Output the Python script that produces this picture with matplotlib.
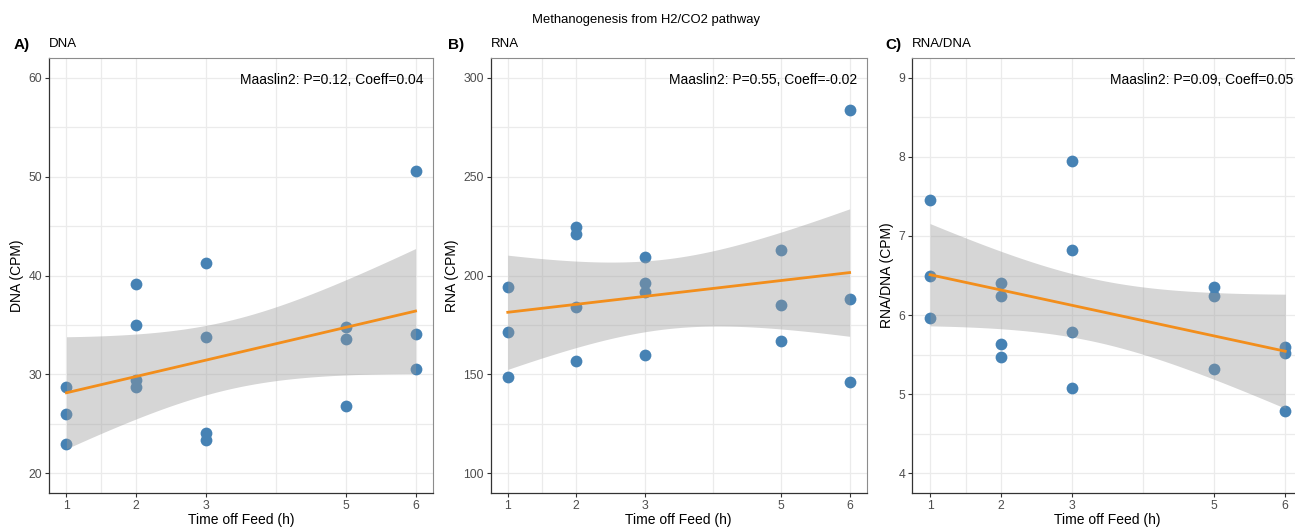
import numpy as np
import matplotlib
matplotlib.use("Agg")
import matplotlib.pyplot as plt

plt.rcParams['font.family'] = ['Liberation Sans', 'DejaVu Sans']

# time off feed (h)
hours = [1, 1, 1, 2, 2, 2, 2, 3, 3, 3, 3, 5, 5, 5, 6, 6, 6]

dna = [28.7, 26.0, 22.97, 39.1, 35.0, 29.45, 28.7, 41.3, 33.8, 24.1, 23.4,
       34.8, 33.55, 26.76, 50.6, 34.07, 30.5]
rna = [194.0, 171.3, 148.9, 224.6, 220.9, 184.0, 157.0, 209.5, 196.1, 191.7, 159.7,
       212.9, 185.1, 167.1, 283.5, 188.0, 146.1]
ratio = [7.46, 6.49, 5.965, 6.40, 6.24, 5.64, 5.47, 7.95, 6.82, 5.79, 5.075,
         6.35, 6.24, 5.32, 5.60, 5.52, 4.79]

panel_tags = ["A)", "B)", "C)"]
panel_titles = ["DNA", "RNA", "RNA/DNA"]
ylabels = ["DNA (CPM)", "RNA (CPM)", "RNA/DNA (CPM)"]
stats = ["Maaslin2: P=0.12, Coeff=0.04",
         "Maaslin2: P=0.55, Coeff=-0.02",
         "Maaslin2: P=0.09, Coeff=0.05"]
yticks = [[20, 30, 40, 50, 60], [100, 150, 200, 250, 300], [4, 5, 6, 7, 8, 9]]
ylims = [(18, 62), (90, 310), (3.75, 9.25)]
xticks = [1, 2, 3, 5, 6]

W, H = 1295, 530
# axes boxes in pixels: left, right, top, bottom
boxes = [(49, 433, 58, 493), (490.7, 866.7, 58, 493), (912.3, 1303, 58, 493)]
tag_x = [14, 448, 885]

T_975 = 2.131  # t quantile, df = 15

fig = plt.figure(figsize=(W / 100, H / 100), dpi=100)

for i, yvals in enumerate([dna, rna, ratio]):
    l, r, t, b = boxes[i]
    ax = fig.add_axes([l / W, (H - b) / H, (r - l) / W, (b - t) / H])
    x = np.array(hours, dtype=float)
    y = np.array(yvals, dtype=float)

    ax.scatter(x, y, s=72, color='#4682B4', zorder=3, linewidths=0)

    # linear fit with 95% confidence band
    slope, icpt = np.polyfit(x, y, 1)
    xs = np.linspace(x.min(), x.max(), 100)
    fit = icpt + slope * xs
    n = len(x)
    resid = y - (icpt + slope * x)
    s = np.sqrt(np.sum(resid ** 2) / (n - 2))
    sxx = np.sum((x - x.mean()) ** 2)
    se = s * np.sqrt(1 / n + (xs - x.mean()) ** 2 / sxx)
    ax.fill_between(xs, fit - T_975 * se, fit + T_975 * se, color='#999999',
                    alpha=0.4, linewidth=0, zorder=4)
    ax.plot(xs, fit, color='#F28E1C', lw=2, zorder=5)

    ax.set_xlim(0.75, 6.25)
    ax.set_ylim(*ylims[i])
    ax.set_xticks(xticks)
    ax.set_xticks([1.5, 4], minor=True)
    yt = yticks[i]
    ax.set_yticks(yt)
    ax.set_yticks([(a + c) / 2 for a, c in zip(yt[:-1], yt[1:])], minor=True)
    ax.grid(True, which='both', color='#EBEBEB', lw=0.9, zorder=0)
    ax.set_axisbelow(True)
    ax.tick_params(which='major', length=3, width=0.8, color='#333333',
                   labelsize=8.8, labelcolor='#4D4D4D', pad=2)
    ax.tick_params(which='minor', length=0)
    for side in ['top', 'right']:
        ax.spines[side].set_color('#8C8C8C')
        ax.spines[side].set_linewidth(0.8)
    for side in ['left', 'bottom']:
        ax.spines[side].set_color('#333333')
        ax.spines[side].set_linewidth(0.9)

    ax.set_xlabel("Time off Feed (h)", fontsize=10, labelpad=1)
    ax.set_ylabel(ylabels[i], fontsize=10, labelpad=3)

    ax.text(0.975, 0.965, stats[i], transform=ax.transAxes, ha='right', va='top',
            fontsize=10)
    fig.text(l / W, (H - 44) / H, panel_titles[i], ha='left', va='center', fontsize=9.5)
    fig.text(tag_x[i] / W, (H - 45) / H, panel_tags[i], ha='left', va='center',
             fontsize=11, fontweight='bold')

fig.text(646 / W, (H - 20) / H, "Methanogenesis from H2/CO2 pathway",
         ha='center', va='center', fontsize=9.4)

fig.savefig("out.png", dpi=100)
